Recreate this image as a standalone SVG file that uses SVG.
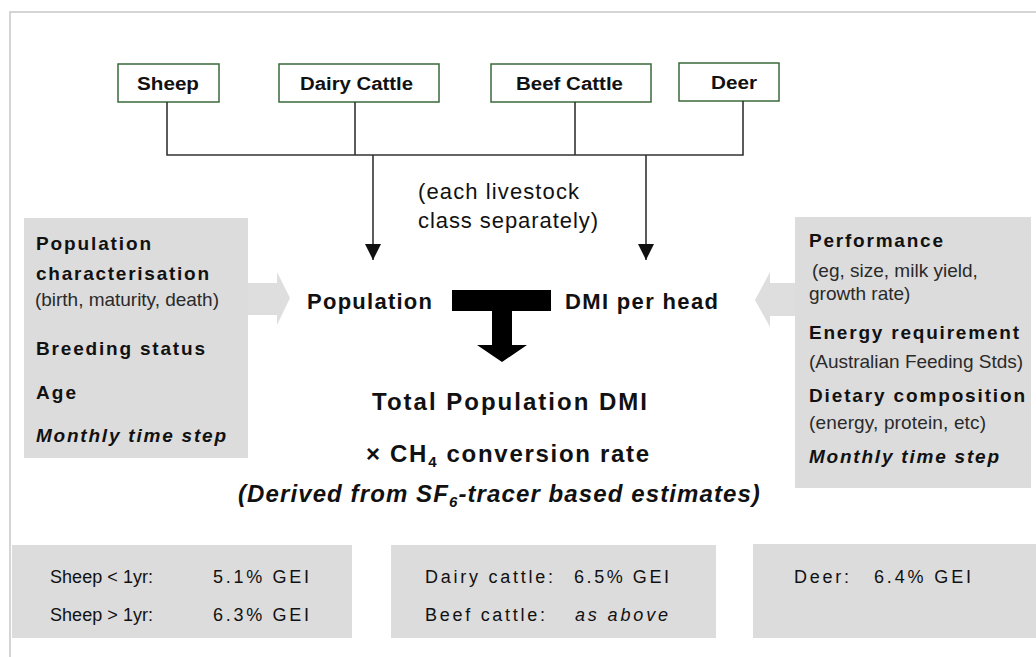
<svg xmlns="http://www.w3.org/2000/svg" width="1036" height="657" viewBox="0 0 1036 657">
<defs>
<style>
text{font-family:"Liberation Sans",Arial,sans-serif;fill:#111}
.b{font-weight:bold}
.i{font-style:italic}
.s{font-size:19px;fill:#2a2a2a}
.node rect{fill:#fff;stroke:#3a6a3a;stroke-width:1.5}
.gbox{fill:#dcdcdc}
.garrow{fill:#dedede}
.conn{stroke:#333;stroke-width:1.6;fill:none}
</style>
<marker id="ah" viewBox="0 0 10 10" refX="10" refY="5" markerWidth="16" markerHeight="18" markerUnits="userSpaceOnUse" orient="auto">
<path d="M0,0 L10,5 L0,10 z" fill="#111"/>
</marker>
</defs>
<rect width="1036" height="657" fill="#fff"/>
<g id="frame" stroke="#c8c8c8" stroke-width="1.5" fill="none">
<path d="M10,657 V12 H1036"/>
</g>

<g id="sheep" class="node"><rect x="118" y="64" width="101" height="38"/><text class="b" x="137" y="90" font-size="18" textLength="62" lengthAdjust="spacingAndGlyphs">Sheep</text></g>
<g id="dairy" class="node"><rect x="279" y="64" width="160" height="38"/><text class="b" x="300" y="90" font-size="18" textLength="113" lengthAdjust="spacingAndGlyphs">Dairy Cattle</text></g>
<g id="beef" class="node"><rect x="491" y="64" width="160" height="38"/><text class="b" x="516" y="90" font-size="18" textLength="107" lengthAdjust="spacingAndGlyphs">Beef Cattle</text></g>
<g id="deer" class="node"><rect x="679" y="63" width="100" height="38"/><text class="b" x="711" y="89" font-size="18" textLength="46" lengthAdjust="spacingAndGlyphs">Deer</text></g>

<g id="connectors">
<path class="conn" d="M167,102 V155 H743 V101 M355,102 V155 M575,102 V155"/>
<path class="conn" d="M373,155 V260" marker-end="url(#ah)"/>
<path class="conn" d="M646,155 V260" marker-end="url(#ah)"/>
<polygon class="garrow" points="248,283 277,283 277,272 290,298 277,325 277,315 248,315"/>
<polygon class="garrow" points="795,283 770,283 770,272 755,300 770,327 770,316 795,316"/>
<polygon fill="#000" points="452,290 551,290 551,311 512,311 512,345 527,345 502,362 477,345 492,345 492,311 452,311"/>
</g>

<g id="note">
<text x="418" y="199" font-size="22" textLength="161" lengthAdjust="spacing">(each livestock</text>
<text x="418" y="228" font-size="22" textLength="180" lengthAdjust="spacing">class separately)</text>
</g>

<g id="left-box">
<rect class="gbox" x="24" y="218" width="224" height="240"/>
<text class="b" x="36" y="250" font-size="19" textLength="115" lengthAdjust="spacing">Population</text>
<text class="b" x="36" y="280" font-size="19" textLength="173" lengthAdjust="spacing">characterisation</text>
<text class="s" x="35" y="306" textLength="184" lengthAdjust="spacing">(birth, maturity, death)</text>
<text class="b" x="36" y="355" font-size="19" textLength="169" lengthAdjust="spacing">Breeding status</text>
<text class="b" x="36" y="399" font-size="19" textLength="40" lengthAdjust="spacing">Age</text>
<text class="b i" x="36" y="442" font-size="19" textLength="190" lengthAdjust="spacing">Monthly time step</text>
</g>

<g id="right-box">
<rect class="gbox" x="795" y="217" width="236" height="271"/>
<text class="b" x="809" y="247" font-size="19" textLength="134" lengthAdjust="spacing">Performance</text>
<text class="s" x="812" y="277">(eg, size, milk yield,</text>
<text class="s" x="809" y="300">growth rate)</text>
<text class="b" x="809" y="339" font-size="19" textLength="210" lengthAdjust="spacing">Energy requirement</text>
<text class="s" x="809" y="368" textLength="214" lengthAdjust="spacing">(Australian Feeding Stds)</text>
<text class="b" x="809" y="402" font-size="19" textLength="216" lengthAdjust="spacing">Dietary composition</text>
<text class="s" x="809" y="429" textLength="177" lengthAdjust="spacing">(energy, protein, etc)</text>
<text class="b i" x="809" y="463" font-size="19" textLength="190" lengthAdjust="spacing">Monthly time step</text>
</g>

<g id="population"><text class="b" x="307" y="309" font-size="22" textLength="125" lengthAdjust="spacing">Population</text></g>
<g id="dmi"><text class="b" x="565" y="309" font-size="22" textLength="153" lengthAdjust="spacing">DMI per head</text></g>

<g id="total">
<text class="b" x="372" y="410" font-size="24" textLength="275" lengthAdjust="spacing">Total Population DMI</text>
<text class="b" x="366" y="462" font-size="24" letter-spacing="1.7">× CH<tspan font-size="15" dy="5">4</tspan><tspan dy="-5"> conversion rate</tspan></text>
<text class="b i" x="238" y="502" font-size="24" letter-spacing="1.1">(Derived from SF<tspan font-size="15" dy="5">6</tspan><tspan dy="-5">-tracer based estimates)</tspan></text>
</g>

<g id="sheep-rates">
<rect class="gbox" x="12" y="545" width="340" height="93"/>
<text x="50" y="583" font-size="18" textLength="103" lengthAdjust="spacing">Sheep &lt; 1yr:</text>
<text x="213" y="583" font-size="18" textLength="96" lengthAdjust="spacing">5.1% GEI</text>
<text x="50" y="621" font-size="18" textLength="103" lengthAdjust="spacing">Sheep &gt; 1yr:</text>
<text x="213" y="621" font-size="18" textLength="96" lengthAdjust="spacing">6.3% GEI</text>
</g>
<g id="cattle-rates">
<rect class="gbox" x="391" y="545" width="325" height="93"/>
<text x="425" y="583" font-size="18" textLength="128" lengthAdjust="spacing">Dairy cattle:</text>
<text x="574" y="583" font-size="18" textLength="95" lengthAdjust="spacing">6.5% GEI</text>
<text x="425" y="621" font-size="18" textLength="120" lengthAdjust="spacing">Beef cattle:</text>
<text class="i" x="575" y="621" font-size="18" textLength="93" lengthAdjust="spacing">as above</text>
</g>
<g id="deer-rates">
<rect class="gbox" x="753" y="544" width="283" height="94"/>
<text x="794" y="583" font-size="18" textLength="55" lengthAdjust="spacing">Deer:</text>
<text x="874" y="583" font-size="18" textLength="97" lengthAdjust="spacing">6.4% GEI</text>
</g>
</svg>
